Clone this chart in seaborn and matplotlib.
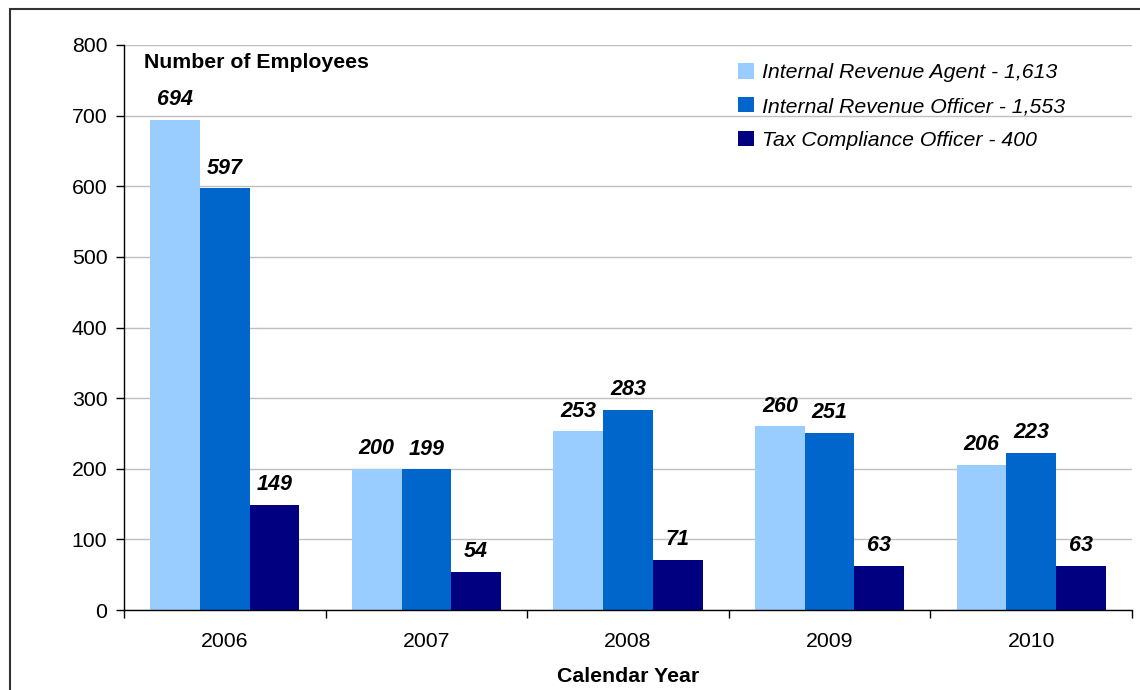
import matplotlib.pyplot as plt
import seaborn as sns
import pandas as pd
from matplotlib.patches import Rectangle

# data
years = ['2006', '2007', '2008', '2009', '2010']
positions = ['Internal Revenue Agent - 1,613',
             'Internal Revenue Officer - 1,553',
             'Tax Compliance Officer - 400']
agent = [694, 200, 253, 260, 206]
officer = [597, 199, 283, 251, 223]
tco = [149, 54, 71, 63, 63]
colors = ['#99CCFF', '#0066CC', '#000080']

df = pd.DataFrame({
    'Year': years * 3,
    'Count': agent + officer + tco,
    'Position': [p for p in positions for _ in years],
})

sns.set_style('white')
plt.rcParams['font.family'] = ['Liberation Sans', 'DejaVu Sans']
plt.rcParams['text.color'] = 'black'
plt.rcParams['xtick.color'] = 'black'
plt.rcParams['ytick.color'] = 'black'
plt.rcParams['axes.labelcolor'] = 'black'

fs = 15.3

fig = plt.figure(figsize=(11.4, 6.9), dpi=100)
ax = fig.add_axes([0.1088, 0.1159, 0.8842, 0.8189])

sns.barplot(data=df, x='Year', y='Count', hue='Position', palette=colors,
            width=0.74, saturation=1, gap=0, linewidth=0, ax=ax, legend=True)

ax.set_ylim(0, 800)
ax.set_yticks(range(0, 801, 100))
ax.yaxis.grid(True, color='#c0c0c0', linewidth=1)
ax.set_axisbelow(True)
for s in ['top', 'right']:
    ax.spines[s].set_visible(False)
for s in ['left', 'bottom']:
    ax.spines[s].set_color('black')
    ax.spines[s].set_linewidth(1)

# ticks on x between groups
ax.set_xlim(-0.5, len(years) - 0.5)
ax.set_xticks(range(len(years)))
ax.set_xticklabels(years, fontsize=fs)
ax.tick_params(axis='x', which='major', length=0, pad=16)
ax.set_xticks([i - 0.5 for i in range(len(years) + 1)], minor=True)
ax.tick_params(axis='x', which='minor', bottom=True, length=6, width=1,
               color='black', direction='out')
ax.tick_params(axis='y', length=6, width=1, color='black', direction='out',
               labelsize=fs, left=True, pad=6)

ax.set_xlabel('Calendar Year', fontsize=fs, fontweight='bold', labelpad=11)
ax.set_ylabel('')
ax.text(0.02, 0.986, 'Number of Employees', transform=ax.transAxes,
        fontsize=fs, fontweight='bold', va='top', ha='left')

for cont in ax.containers:
    ax.bar_label(cont, fmt='%d', padding=7, fontsize=15.5,
                 fontweight='bold', fontstyle='italic')

leg = ax.legend(loc='upper left', bbox_to_anchor=(0.609, 0.968), frameon=False,
                fontsize=fs, handlelength=0.75, handleheight=0.75,
                handletextpad=0.38, labelspacing=0.69, borderpad=0,
                borderaxespad=0)
for t in leg.get_texts():
    t.set_fontstyle('italic')

fig.patches.append(Rectangle((10 / 1140, -0.1), 1.2, 1 - 9 / 690 + 0.1,
                             transform=fig.transFigure, fill=False,
                             edgecolor='#333333', linewidth=1.5))

fig.savefig('out.png', dpi=100)
